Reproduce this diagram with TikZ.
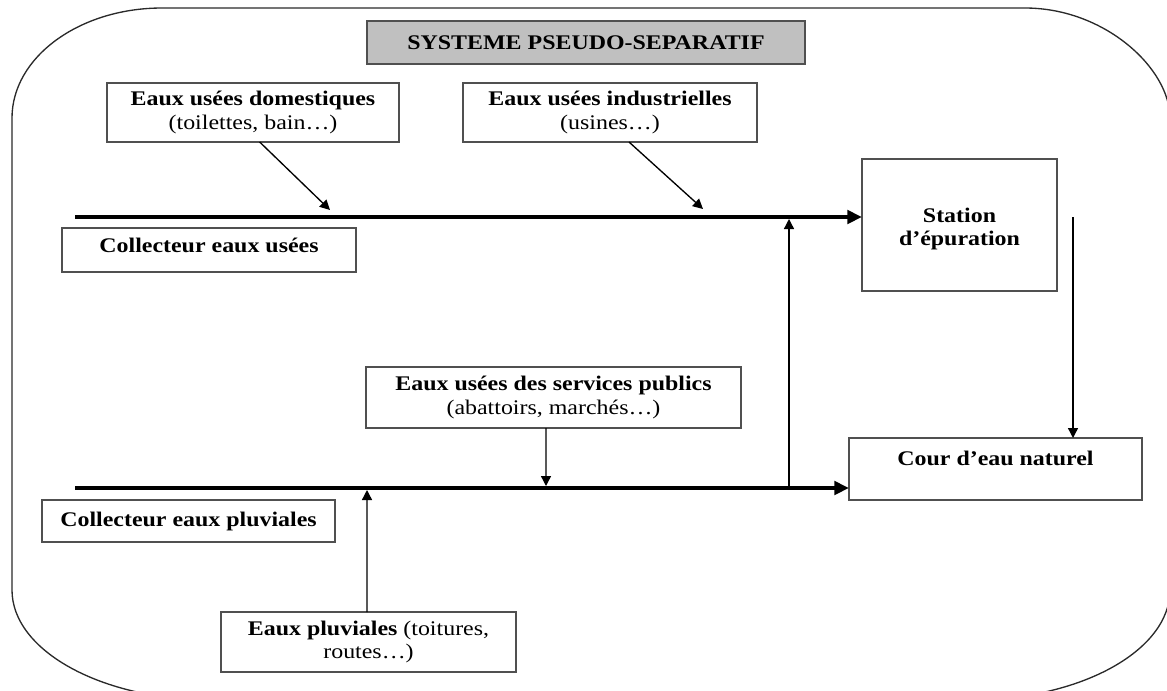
\documentclass[tikz,border=0pt]{standalone}
\usepackage{fontspec}
\setmainfont{Liberation Serif}[FakeStretch=1.15]
\usetikzlibrary{arrows.meta}
\definecolor{boxgray}{HTML}{505050}
\definecolor{framegray}{HTML}{2A2A2A}
\definecolor{titlefill}{HTML}{C0C0C0}
\newcommand\dgfs{\fontsize{15.6}{17.5}\selectfont}
\begin{document}
\begin{tikzpicture}[x=0.75pt,y=-0.75pt,
  box/.style={draw=boxgray, line width=1.1pt, inner sep=0pt, outer sep=0pt, align=center, font=\dgfs},
  txt/.style={inner sep=0pt, outer sep=0pt, align=center, font=\dgfs},
  thinarr/.style={line width=1pt, -{Triangle[length=7.5pt,width=7.5pt]}},
  thickarr/.style={line width=3pt, -{Triangle[length=11pt,width=10pt]}},
  frame/.style={draw=framegray, line width=1pt}]
\useasboundingbox (0,0) rectangle (1167,690);
\clip (0,0) rectangle (1167,690);
% outer rounded frame
\draw[frame] (162,8) -- (1025,8) .. controls (1105,8) and (1170,68.7) .. (1170,118)
  -- (1170,590) .. controls (1170,650.7) and (1080.4,700) .. (970,700)
  -- (212,700) .. controls (101.6,700) and (12,650.7) .. (12,590)
  -- (12,118) .. controls (12,57.3) and (79.2,8) .. (162,8) -- cycle;
% boxes
\node[box, fill=titlefill, minimum width=328.5pt, minimum height=32.25pt] (title) at (586,42.5) {\textbf{SYSTEME PSEUDO-SEPARATIF}};
\node[box, minimum width=219pt, minimum height=44.25pt] (dom) at (253,112.5) {\textbf{Eaux usées domestiques}\\(toilettes, bain…)};
\node[box, minimum width=220.5pt, minimum height=44.25pt] (ind) at (610,112.5) {\textbf{Eaux usées industrielles}\\(usines…)};
\node[box, minimum width=220.5pt, minimum height=33pt] (cu) at (209,250) {};
\node[txt] (cut) at (209,245) {\textbf{Collecteur eaux usées}};
\node[box, minimum width=146.25pt, minimum height=99pt] (st) at (959.5,225) {};
\node[txt] (stt) at (959.5,229) {\textbf{Station}\\\textbf{d’épuration}};
\node[box, minimum width=281.25pt, minimum height=45.75pt] (srv) at (553.5,397.5) {\textbf{Eaux usées des services publics}\\(abattoirs, marchés…)};
\node[box, minimum width=219.75pt, minimum height=46.5pt] (cour) at (995.5,469) {};
\node[txt] (court) at (995.5,458) {\textbf{Cour d’eau naturel}};
\node[box, minimum width=219.75pt, minimum height=31.5pt] (cp) at (188.5,521) {\textbf{Collecteur eaux pluviales}};
\node[box, minimum width=221.25pt, minimum height=45pt] (plu) at (368.5,642) {\textbf{Eaux pluviales} (toitures,\\routes…)};
% coordinates
\coordinate (u0) at (75,217);
\coordinate (l0) at (75,488);
\coordinate (db) at (330,210);
\coordinate (ib) at (703,209);
\coordinate (sb) at (546,486);
\coordinate (pb) at (367,490);
\coordinate (m0) at (789,488);
\coordinate (m1) at (789,219);
\coordinate (s0) at (1073,217);
% collectors
\draw[thickarr] (u0) -- (u0 -| st.west);
\draw[thickarr] (l0) -- (l0 -| cour.west);
% inflows
\draw[thinarr] ([xshift=5pt]dom.south) -- (db);
\draw[thinarr] ([xshift=14.25pt]ind.south) -- (ib);
\draw[thinarr] ([xshift=-5.6pt]srv.south) -- (sb);
\draw[thinarr] ([xshift=-1.1pt]plu.north) -- (pb);
\draw[thinarr] (m0) -- (m1);
\draw[thinarr] (s0) -- (s0 |- cour.north);
\end{tikzpicture}
\end{document}
